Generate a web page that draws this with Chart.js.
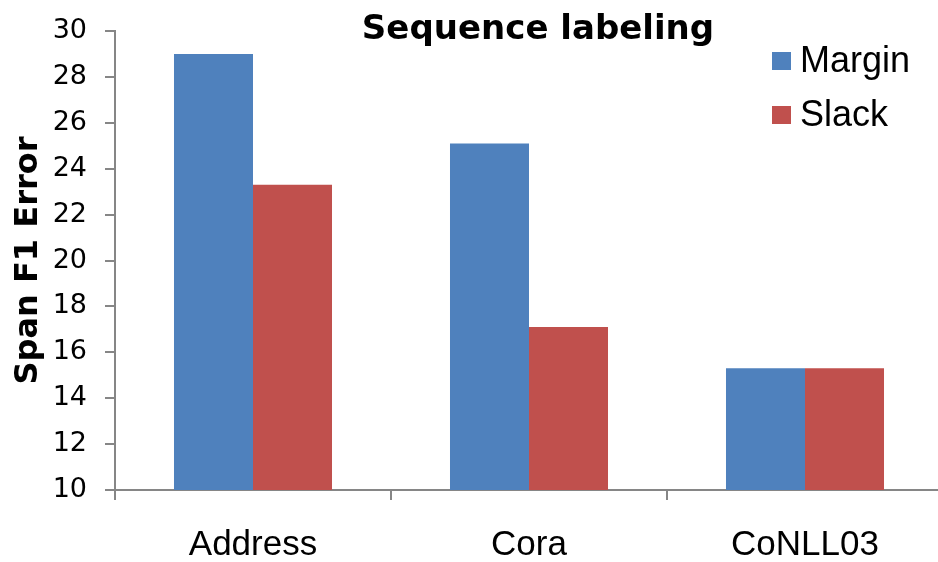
<!DOCTYPE html>
<html>
<head>
<meta charset="utf-8">
<script src="https://cdn.jsdelivr.net/npm/chart.js@4/dist/chart.umd.min.js"></script>
<style>
  html, body { margin: 0; padding: 0; background: #ffffff; overflow: hidden; }
  #wrap { width: 938px; height: 562px; position: relative; overflow: hidden; }
  canvas { display: block; }
</style>
</head>
<body>
<div id="wrap"><canvas id="c" width="943" height="562"></canvas></div>
<script>
// Span F1 error per dataset for the two training objectives
const categories = ['Address', 'Cora', 'CoNLL03'];
const marginValues = [29.0, 25.1, 15.3];
const slackValues = [23.3, 17.1, 15.3];
const seriesNames = ['Margin', 'Slack'];
const chartTitle = 'Sequence labeling';
const yAxisTitle = 'Span F1 Error';

const FONT = '"Liberation Sans", Arial, Helvetica, sans-serif';
const WIDE_FONT = '"DejaVu Sans", Verdana, sans-serif';
const AXIS_GREY = '#868686';

// Title drawn over the top of the plot area
const titlePlugin = {
  id: 'overlayTitle',
  afterDraw(chart) {
    const ctx = chart.ctx;
    ctx.save();
    ctx.font = 'bold 34px ' + WIDE_FONT;
    ctx.fillStyle = '#000';
    ctx.textAlign = 'center';
    ctx.textBaseline = 'alphabetic';
    ctx.fillText(chartTitle, 538, 39);
    ctx.restore();
  }
};

// Legend in the upper right corner of the plot
const legendPlugin = {
  id: 'cornerLegend',
  afterDraw(chart) {
    const ctx = chart.ctx;
    ctx.save();
    ctx.font = '36px ' + FONT;
    ctx.textBaseline = 'middle';
    ctx.textAlign = 'left';
    chart.data.datasets.forEach((ds, i) => {
      const cy = 61 + i * 54;
      ctx.fillStyle = ds.backgroundColor;
      ctx.fillRect(772, cy - 9, 19, 18);
      ctx.fillStyle = '#000';
      ctx.fillText(ds.label, 800, cy + 1);
    });
    ctx.restore();
  }
};

new Chart(document.getElementById('c'), {
  type: 'bar',
  data: {
    labels: categories,
    datasets: [
      { label: seriesNames[0], data: marginValues, backgroundColor: '#4F81BD' },
      { label: seriesNames[1], data: slackValues, backgroundColor: '#C0504D' }
    ]
  },
  options: {
    responsive: false,
    animation: false,
    devicePixelRatio: 1,
    layout: { padding: { top: 31, right: 0, bottom: 0, left: 0 } },
    datasets: { bar: { categoryPercentage: 0.5725, barPercentage: 1.0, borderWidth: 0 } },
    plugins: {
      legend: { display: false },
      title: { display: false },
      tooltip: { enabled: false }
    },
    scales: {
      x: {
        offset: true,
        grid: { offset: true, drawOnChartArea: false, drawTicks: true, tickLength: 10, color: AXIS_GREY, lineWidth: 2 },
        border: { display: true, color: AXIS_GREY, width: 2 },
        ticks: { color: '#000', font: { family: FONT, size: 35 }, padding: 24, maxRotation: 0 },
        afterFit(scale) {
          scale.height = 72;
          scale.paddingLeft = 0;
          scale.paddingRight = 0;
        }
      },
      y: {
        min: 10,
        max: 30,
        grid: { drawOnChartArea: false, drawTicks: true, tickLength: 10, color: AXIS_GREY, lineWidth: 2 },
        border: { display: true, color: AXIS_GREY, width: 2 },
        ticks: { stepSize: 2, color: '#000', font: { family: WIDE_FONT, size: 27 }, padding: 18 },
        title: {
          display: true,
          text: yAxisTitle,
          color: '#000',
          font: { family: WIDE_FONT, size: 32, weight: 'bold' },
          padding: { top: 9, bottom: 0 }
        },
        afterFit(scale) {
          scale.width = 115;
          scale.paddingTop = 0;
          scale.paddingBottom = 0;
        }
      }
    }
  },
  plugins: [titlePlugin, legendPlugin]
});
</script>
</body>
</html>
